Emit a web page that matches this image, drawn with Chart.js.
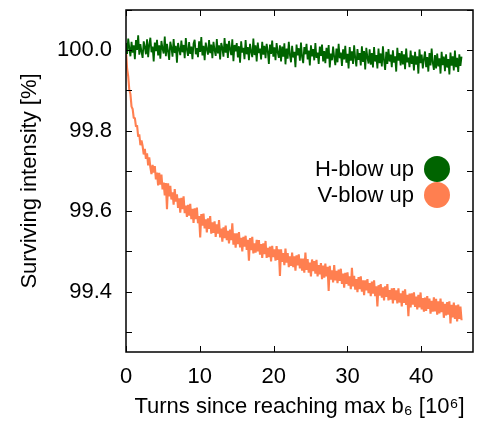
<!DOCTYPE html>
<html>
<head>
<meta charset="utf-8">
<script src="https://cdn.jsdelivr.net/npm/chart.js@4"></script>
<style>
  html, body { margin: 0; padding: 0; background: #fff; }
  #wrap { width: 477px; height: 423px; }
</style>
</head>
<body>
<div id="wrap"><canvas id="survChart" width="477" height="423"></canvas></div>
<script>
// sampled every 0.15 x 10^6 turns
const STEP = 0.15;
const seriesNames = ['H-blow up', 'V-blow up'];
const xTickValues = [0, 10, 20, 30, 40];
const yLabelValues = [99.4, 99.6, 99.8, 100.0];

const hBlowUp = [
  100.018, 99.991, 100.029, 100.006, 99.985, 100.021, 99.994, 100.012, 99.978, 100.025,
  100.001, 100.037, 99.989, 100.015, 99.996, 99.981, 100.022, 100.008, 99.990, 100.027,
  99.983, 100.014, 100.031, 99.995, 100.009, 99.972, 100.019, 99.998, 100.026, 99.987,
  100.012, 99.979, 100.023, 100.004, 99.992, 100.034, 99.985, 100.016, 99.997, 99.976,
  100.021, 100.007, 99.984, 100.028, 99.993, 100.011, 99.969, 100.018, 100.002, 99.988,
  100.024, 99.995, 100.013, 99.980, 100.030, 100.001, 99.986, 100.020, 99.991, 100.009,
  99.978, 100.017, 100.026, 99.990, 100.005, 99.983, 100.022, 99.996, 100.033, 99.987,
  100.011, 99.975, 100.019, 100.003, 99.989, 100.025, 99.993, 100.014, 99.980, 100.021,
  100.000, 99.986, 100.028, 99.992, 100.012, 99.977, 100.018, 100.006, 99.984, 100.030,
  99.994, 100.016, 99.981, 100.023, 100.002, 99.988, 100.027, 99.973, 100.013, 99.997,
  100.018, 99.982, 100.010, 99.969, 100.022, 99.994, 100.006, 99.978, 100.025, 99.990,
  100.008, 99.975, 100.016, 99.996, 99.983, 100.029, 99.988, 100.012, 99.972, 100.019,
  99.993, 100.004, 99.977, 100.021, 99.989, 100.011, 99.980, 100.016, 99.998, 99.966,
  100.014, 99.991, 100.024, 99.984, 100.007, 99.975, 100.018, 99.995, 99.981, 100.012,
  99.972, 100.009, 99.984, 100.017, 99.965, 100.004, 99.979, 100.021, 99.988, 99.970,
  100.011, 99.982, 99.996, 99.958, 100.014, 99.987, 100.005, 99.974, 100.019, 99.983,
  99.968, 100.008, 99.990, 100.016, 99.977, 99.999, 99.962, 100.012, 99.985, 100.003,
  99.975, 100.018, 99.981, 99.994, 99.966, 100.009, 99.986, 100.014, 99.972, 99.998,
  99.968, 100.006, 99.979, 100.013, 99.957, 99.992, 99.975, 100.009, 99.983, 99.963,
  100.004, 99.970, 100.016, 99.980, 99.994, 99.961, 100.002, 99.977, 100.011, 99.969,
  99.991, 99.955, 100.008, 99.974, 99.997, 99.966, 100.012, 99.981, 99.960, 100.003,
  99.976, 99.993, 99.962, 100.010, 99.971, 99.998, 99.952, 100.006, 99.982, 99.967,
  100.002, 99.964, 99.993, 99.957, 100.008, 99.972, 99.988, 99.955, 100.004, 99.968,
  99.992, 99.960, 100.010, 99.975, 99.951, 99.996, 99.966, 100.003, 99.972, 99.989,
  99.958, 100.000, 99.969, 99.985, 99.947, 100.006, 99.974, 99.993, 99.962, 99.998,
  99.965, 99.990, 99.953, 100.004, 99.970, 99.982, 99.958, 99.999, 99.966, 99.987,
  99.950, 99.996, 99.964, 99.985, 99.942, 100.002, 99.968, 99.989, 99.955, 99.978,
  99.997, 99.958, 99.983, 99.947, 99.993, 99.962, 100.004, 99.969, 99.951, 99.988,
  99.955, 99.992, 99.960, 99.980, 99.942, 99.996, 99.963, 99.984, 99.948, 99.990,
  99.957, 99.978, 99.940, 99.994, 99.962, 99.985, 99.950, 99.999, 99.958, 99.981,
  99.946, 99.990, 99.961, 99.984
];

const vBlowUp = [
  100.000, 99.954, 99.935, 99.901, 99.891, 99.860, 99.854, 99.831, 99.832, 99.810,
  99.813, 99.785, 99.791, 99.764, 99.776, 99.762, 99.741, 99.755, 99.730, 99.744,
  99.714, 99.734, 99.709, 99.692, 99.715, 99.696, 99.712, 99.679, 99.696, 99.664,
  99.695, 99.666, 99.691, 99.654, 99.671, 99.639, 99.670, 99.605, 99.669, 99.637,
  99.663, 99.629, 99.647, 99.616, 99.655, 99.624, 99.642, 99.608, 99.632, 99.596,
  99.633, 99.605, 99.637, 99.595, 99.614, 99.586, 99.616, 99.589, 99.618, 99.580,
  99.606, 99.571, 99.607, 99.580, 99.609, 99.570, 99.588, 99.535, 99.593, 99.564,
  99.594, 99.557, 99.580, 99.547, 99.582, 99.556, 99.588, 99.544, 99.572, 99.546,
  99.575, 99.536, 99.567, 99.544, 99.578, 99.535, 99.557, 99.524, 99.560, 99.533,
  99.564, 99.528, 99.551, 99.520, 99.554, 99.528, 99.570, 99.517, 99.545, 99.509,
  99.545, 99.518, 99.548, 99.510, 99.534, 99.500, 99.536, 99.512, 99.539, 99.504,
  99.529, 99.477, 99.533, 99.503, 99.536, 99.495, 99.520, 99.497, 99.529, 99.500,
  99.528, 99.492, 99.518, 99.484, 99.520, 99.493, 99.526, 99.484, 99.509, 99.486,
  99.512, 99.475, 99.514, 99.486, 99.505, 99.477, 99.513, 99.479, 99.505, 99.439,
  99.505, 99.474, 99.496, 99.466, 99.507, 99.472, 99.496, 99.461, 99.488, 99.464,
  99.497, 99.461, 99.488, 99.452, 99.490, 99.465, 99.493, 99.458, 99.482, 99.452,
  99.482, 99.447, 99.497, 99.454, 99.481, 99.447, 99.472, 99.438, 99.480, 99.451,
  99.476, 99.445, 99.479, 99.438, 99.466, 99.443, 99.471, 99.431, 99.465, 99.435,
  99.470, 99.438, 99.462, 99.402, 99.464, 99.430, 99.453, 99.423, 99.466, 99.428,
  99.452, 99.421, 99.455, 99.427, 99.457, 99.419, 99.445, 99.410, 99.447, 99.419,
  99.448, 99.415, 99.438, 99.406, 99.459, 99.413, 99.439, 99.405, 99.431, 99.399,
  99.436, 99.406, 99.438, 99.400, 99.428, 99.391, 99.428, 99.403, 99.431, 99.396,
  99.421, 99.389, 99.425, 99.395, 99.428, 99.389, 99.413, 99.363, 99.416, 99.390,
  99.419, 99.385, 99.411, 99.378, 99.413, 99.387, 99.419, 99.378, 99.404, 99.380,
  99.408, 99.371, 99.409, 99.379, 99.403, 99.371, 99.408, 99.373, 99.396, 99.363,
  99.402, 99.372, 99.406, 99.367, 99.392, 99.339, 99.395, 99.361, 99.396, 99.368,
  99.398, 99.362, 99.388, 99.356, 99.392, 99.361, 99.398, 99.356, 99.384, 99.350,
  99.385, 99.352, 99.389, 99.357, 99.383, 99.345, 99.377, 99.350, 99.386, 99.351,
  99.382, 99.343, 99.376, 99.346, 99.383, 99.349, 99.375, 99.335, 99.370, 99.341,
  99.374, 99.343, 99.376, 99.321, 99.367, 99.336, 99.373, 99.332, 99.366, 99.326,
  99.368, 99.332, 99.363, 99.329
];

const toPoints = arr => arr.map((v, i) => ({ x: i * STEP, y: v }));

const FONT = "'Liberation Sans', Arial, sans-serif";

// inward ticks on all four sides + black frame
const frameTicks = {
  id: 'frameTicks',
  afterDraw(chart) {
    const { ctx, chartArea: a, scales: { x, y } } = chart;
    ctx.save();
    ctx.strokeStyle = '#000';
    ctx.lineWidth = 1;
    ctx.beginPath();
    x.ticks.forEach(t => {
      const px = Math.round(x.getPixelForValue(t.value)) + 0.5;
      ctx.moveTo(px, a.bottom); ctx.lineTo(px, a.bottom - 6);
      ctx.moveTo(px, a.top); ctx.lineTo(px, a.top + 6);
    });
    y.ticks.forEach(t => {
      const py = Math.round(y.getPixelForValue(t.value)) + 0.5;
      ctx.moveTo(a.left, py); ctx.lineTo(a.left + 6, py);
      ctx.moveTo(a.right, py); ctx.lineTo(a.right - 6, py);
    });
    ctx.stroke();
    ctx.lineWidth = 1.5;
    ctx.strokeRect(a.left, a.top, a.right - a.left, a.bottom - a.top);
    ctx.restore();
  }
};

// legend inside plot: text right-aligned, filled circle to the right
const sideLegend = {
  id: 'sideLegend',
  afterDatasetsDraw(chart) {
    const { ctx, chartArea: a } = chart;
    ctx.save();
    ctx.font = '22px ' + FONT;
    ctx.textAlign = 'right';
    ctx.textBaseline = 'middle';
    chart.data.datasets.forEach((ds, i) => {
      const cy = a.top + 159 + i * 26;
      const cx = a.right - 36;
      ctx.fillStyle = '#000';
      ctx.fillText(ds.label, cx - 23, cy + 1);
      ctx.fillStyle = ds.borderColor;
      ctx.beginPath();
      ctx.arc(cx, cy, 13, 0, Math.PI * 2);
      ctx.fill();
    });
    ctx.restore();
  }
};

new Chart(document.getElementById('survChart').getContext('2d'), {
  type: 'line',
  data: {
    datasets: [
      { label: seriesNames[0], data: toPoints(hBlowUp), borderColor: '#006400', borderWidth: 1.8, borderJoinStyle: 'bevel', pointRadius: 0, tension: 0 },
      { label: seriesNames[1], data: toPoints(vBlowUp), borderColor: '#ff7f50', borderWidth: 2.1, borderJoinStyle: 'bevel', pointRadius: 0, tension: 0 }
    ]
  },
  options: {
    responsive: false,
    animation: false,
    events: [],
    layout: { padding: { top: 10, right: 4, left: 0, bottom: 0 } },
    plugins: { legend: { display: false }, tooltip: { enabled: false } },
    scales: {
      x: {
        type: 'linear',
        min: 0,
        max: 47,
        grid: { display: false, drawTicks: false },
        border: { display: false },
        afterFit: s => { s.height = 71; s.paddingLeft = 0; s.paddingRight = 0; },
        afterBuildTicks: s => { s.ticks = xTickValues.map(v => ({ value: v })); },
        ticks: { color: '#000', padding: 12, maxRotation: 0, font: { family: FONT, size: 22 } },
        title: {
          display: true,
          text: 'Turns since reaching max b\u2086 [10\u2076]',
          color: '#000',
          font: { family: FONT, size: 22 },
          padding: { top: 0, bottom: 3 }
        }
      },
      y: {
        min: 99.25,
        max: 100.1,
        grid: { display: false, drawTicks: false },
        border: { display: false },
        afterFit: s => { s.width = 126; s.paddingTop = 0; s.paddingBottom = 0; },
        ticks: {
          stepSize: 0.1,
          includeBounds: false,
          color: '#000',
          padding: 14,
          font: { family: FONT, size: 22 },
          callback: v => yLabelValues.some(l => Math.abs(l - v) < 1e-6) ? v.toFixed(1) : ''
        },
        title: {
          display: true,
          text: 'Surviving intensity [%]',
          color: '#000',
          font: { family: FONT, size: 22 },
          padding: { top: 17, bottom: 17 }
        }
      }
    }
  },
  plugins: [frameTicks, sideLegend]
});
</script>
</body>
</html>
